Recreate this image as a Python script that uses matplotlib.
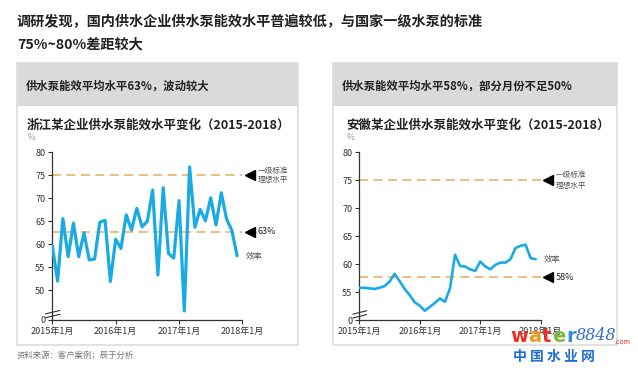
import numpy as np
import matplotlib
matplotlib.use('Agg')
import matplotlib.pyplot as plt
from matplotlib.patches import Rectangle

plt.rcParams['font.family'] = ['Noto Sans CJK SC', 'DejaVu Sans']

# monthly pump efficiency, Jan 2015 .. Dec 2017 (36 months)
months = np.arange(36)
zj_eff = [59.7, 52.0, 65.6, 57.3, 64.6, 57.3, 62.5, 56.6, 56.8, 64.8,
          65.2, 51.9, 61.1, 59.1, 66.4, 63.1, 67.8, 63.8, 65.0, 71.8,
          53.3, 72.3, 58.0, 57.0, 69.5, 45.5, 76.8, 63.7, 67.6, 65.1,
          70.1, 64.2, 71.2, 65.5, 63.0, 57.5]
ah_eff = [55.8, 55.8, 55.7, 55.6, 55.8, 56.1, 56.9, 58.3, 57.0, 55.6,
          54.5, 53.2, 52.6, 51.7, 52.4, 53.1, 53.9, 53.3, 55.7, 61.7,
          59.7, 59.6, 59.1, 58.8, 60.5, 59.6, 59.1, 59.9, 60.3, 60.3,
          60.9, 62.9, 63.3, 63.5, 61.1, 60.9]
zj_avg, ah_avg, std_level = 62.7, 57.7, 75
year_ticks = [0, 12, 24, 36]
year_labels = ['2015年1月', '2016年1月', '2017年1月', '2018年1月']

blue = '#1BABE3'
orange = '#EDB878'
grey_txt = '#555555'

fig = plt.figure(figsize=(6.38, 3.74), dpi=100)

fig.text(17/638, 1-22/374, '调研发现，国内供水企业供水泵能效水平普遍较低，与国家一级水泵的标准',
         fontsize=10.2, fontweight='bold', va='center', ha='left', color='#222222')
fig.text(17/638, 1-44/374, '75%~80%差距较大', fontsize=10.2, fontweight='bold',
         va='center', ha='left', color='#222222')

# panel boxes with grey header band
for x0, x1, head in [(17, 298, '供水泵能效平均水平63%，波动较大'),
                     (333, 617, '供水泵能效平均水平58%，部分月份不足50%')]:
    fig.patches.append(Rectangle((x0/638, 1-345/374), (x1-x0)/638, (345-63)/374,
                                 transform=fig.transFigure, facecolor='white',
                                 edgecolor='#DDDDDD', lw=1.2, zorder=-2))
    fig.patches.append(Rectangle((x0/638, 1-106/374), (x1-x0)/638, (106-63)/374,
                                 transform=fig.transFigure, facecolor='#DADADA',
                                 edgecolor='none', zorder=-1))
    fig.text((x0+9)/638, 1-86/374, head, fontsize=8.2, fontweight='bold',
             va='center', ha='left', color='#222222')

fig.text(27/638, 1-125/374, '浙江某企业供水泵能效水平变化（2015-2018）', fontsize=9,
         fontweight='bold', va='center', ha='left', color='#222222')
fig.text(346/638, 1-125/374, '安徽某企业供水泵能效水平变化（2015-2018）', fontsize=9,
         fontweight='bold', va='center', ha='left', color='#222222')
fig.text(28/638, 1-138/374, '%', fontsize=6, color='#999999', va='center', ha='left')
fig.text(347/638, 1-138/374, '%', fontsize=6, color='#999999', va='center', ha='left')
fig.text(17/638, 1-355/374, '资料来源：客户案例；辰于分析', fontsize=6, color='#777777',
         va='center', ha='left')


def draw_panel(rect, eff, avg, avg_label, ymin, yticks, ylabels, lw, eff_y):
    ax = fig.add_axes(rect)
    ax.plot(months, eff, color=blue, lw=lw, solid_joinstyle='round',
            solid_capstyle='round', zorder=3)
    ax.plot([0, 36], [std_level, std_level], color=orange, lw=1.3,
            dashes=(5, 3), zorder=2, clip_on=False)
    ax.plot([0, 36], [avg, avg], color=orange, lw=1.3, dashes=(5, 3),
            zorder=2, clip_on=False)
    ax.plot([37.4, 37.4], [std_level, avg], ls='none', marker='<',
            color='black', ms=7, clip_on=False)
    ax.text(38.9, std_level + 0.9, '一级标准', fontsize=5.5, color=grey_txt,
            va='center', ha='left')
    ax.text(38.9, std_level - 1.0, '理想水平', fontsize=5.5, color=grey_txt,
            va='center', ha='left')
    ax.text(38.9, avg, avg_label, fontsize=6.5, color='#222222',
            va='center', ha='left')
    ax.text(36.6, eff_y, '效率', fontsize=6, color=grey_txt, va='center',
            ha='left')
    ax.set_xlim(0, 36)
    ax.set_ylim(ymin, 80)
    ax.set_xticks(year_ticks)
    ax.set_xticklabels(year_labels)
    ax.set_yticks(yticks)
    ax.set_yticklabels(ylabels)
    ax.tick_params(labelsize=6.5, colors='#333333', length=3, width=0.8, pad=2)
    ax.spines['top'].set_visible(False)
    ax.spines['right'].set_visible(False)
    for s in ['left', 'bottom']:
        ax.spines[s].set_linewidth(0.9)
        ax.spines[s].set_color('#333333')
    ax.patch.set_alpha(0)
    # axis break mark
    for dy in (0.012, 0.035):
        ax.plot([-0.035, 0.04], [dy, dy + 0.02], transform=ax.transAxes,
                color='#333333', lw=0.8, clip_on=False)
    return ax


draw_panel([52.3/638, 1-319.7/374, 190.1/638, 167.4/374], zj_eff, zj_avg, '63%',
           43.6, [43.6, 50, 55, 60, 65, 70, 75, 80],
           ['0', '50', '55', '60', '65', '70', '75', '80'], 2.3, 57.3)
draw_panel([359.3/638, 1-320/374, 181.4/638, 167.7/374], ah_eff, ah_avg, '58%',
           50.05, [50.05, 55, 60, 65, 70, 75, 80],
           ['0', '55', '60', '65', '70', '75', '80'], 1.9, 60.9)

# watermark
renderer = fig.canvas.get_renderer()
wm_colors = ['#E8302A', '#F29A1F', '#E8302A', '#7DBA3C', '#2F8FD8']
x = 510
for ch, c in zip('water', wm_colors):
    t = fig.text(x/638, 1-337/374, ch, fontsize=14, fontweight='bold', color=c,
                 va='center', ha='left', family='DejaVu Sans')
    x = t.get_window_extent(renderer).x1 + 0.5
fig.text(x/638, 1-335/374, '8848', fontsize=11.5, style='italic', color='#2F6FC8',
         va='center', ha='left', family='DejaVu Serif')
fig.text(614/638, 1-342/374, '.com', fontsize=5, color='#E8302A',
         va='center', ha='left')
fig.text(513/638, 1-357/374, '中 国 水 业 网', fontsize=10, color='#1E6FD0',
         va='center', ha='left', fontweight='bold')

fig.savefig('out.png', dpi=100)
